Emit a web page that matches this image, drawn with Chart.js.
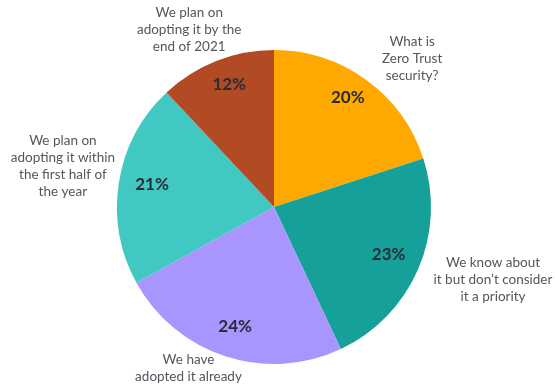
<!DOCTYPE html>
<html>
<head>
<meta charset="utf-8">
<script src="https://cdn.jsdelivr.net/npm/chart.js@4/dist/chart.umd.min.js"></script>
<style>
  html, body { margin: 0; padding: 0; background: #ffffff; }
  #wrap { width: 555px; height: 386px; position: relative; }
</style>
</head>
<body>
<div id="wrap"><canvas id="pie"></canvas></div>
<script>
// Survey answers, clockwise from 12 o'clock
const categories = [
  ["What is", "Zero Trust", "security?"],
  ["We know about", "it but don\u2019t consider", "it a priority"],
  ["We have", "adopted it already"],
  ["We plan on", "adopting it within", "the first half of", "the year"],
  ["We plan on", "adopting it by the", "end of 2021"]
];
const shares = [20, 23, 24, 21, 12];
const sliceColors = ["#FFA800", "#15A19A", "#A896FE", "#42C8C2", "#B24A24"];

// Where each outside caption sits: angle offset (deg) from the slice middle, radius factor
const captionPlacement = [
  { dAngle: 7,  r: 1.29 },
  { dAngle: -5, r: 1.47 },
  { dAngle: 10, r: 1.16 },
  { dAngle: 2,  r: 1.37 },
  { dAngle: -4, r: 1.25 }
];
// Percentage label placement: angle offset (deg), radius factor
const valuePlacement = [
  { dAngle: -2, r: 0.84 },
  { dAngle: -1, r: 0.79 },
  { dAngle: 0,  r: 0.80 },
  { dAngle: 1.5, r: 0.79 },
  { dAngle: 1.5, r: 0.83 }
];

const sliceLabels = {
  id: "sliceLabels",
  afterDatasetsDraw(chart) {
    const ctx = chart.ctx;
    const meta = chart.getDatasetMeta(0);
    meta.data.forEach((arc, i) => {
      const { x, y, startAngle, endAngle, outerRadius } = arc.getProps(
        ["x", "y", "startAngle", "endAngle", "outerRadius"], true);
      const mid = (startAngle + endAngle) / 2;

      // percentage inside the slice
      const v = valuePlacement[i];
      const va = mid + v.dAngle * Math.PI / 180;
      const vr = outerRadius * v.r;
      ctx.save();
      ctx.font = "bold 17px Lato, 'Open Sans', sans-serif";
      ctx.fillStyle = "#272c37";
      ctx.textAlign = "center";
      ctx.textBaseline = "middle";
      ctx.fillText(shares[i] + "%", x + Math.cos(va) * vr, y + Math.sin(va) * vr);

      // caption outside the slice
      const p = captionPlacement[i];
      const a = mid + p.dAngle * Math.PI / 180;
      const cr = outerRadius * p.r;
      const cx = x + Math.cos(a) * cr;
      const cy = y + Math.sin(a) * cr;
      const lines = categories[i];
      const lh = 17;
      ctx.font = "13.5px Lato, 'Open Sans', sans-serif";
      ctx.fillStyle = "#52575e";
      lines.forEach((t, k) => {
        ctx.fillText(t, cx, cy + (k - (lines.length - 1) / 2) * lh);
      });
      ctx.restore();
    });
  }
};

new Chart(document.getElementById("pie"), {
  type: "pie",
  data: {
    labels: categories.map(c => c.join(" ")),
    datasets: [{
      data: shares,
      backgroundColor: sliceColors,
      borderWidth: 0
    }]
  },
  options: {
    responsive: true,
    maintainAspectRatio: false,
    animation: false,
    layout: { padding: { top: 50, bottom: 22, left: 117, right: 124 } },
    plugins: {
      legend: { display: false },
      tooltip: { enabled: false }
    }
  },
  plugins: [sliceLabels]
});
</script>
</body>
</html>
